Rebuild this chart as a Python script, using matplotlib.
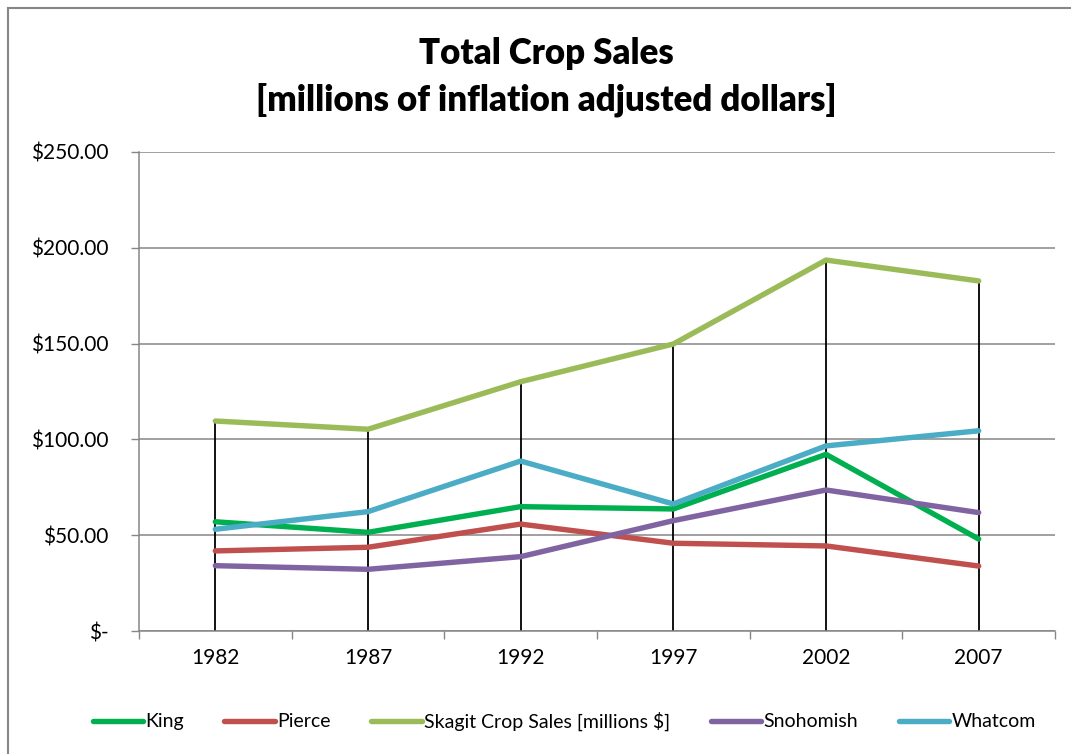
import matplotlib
matplotlib.use("Agg")
import matplotlib.pyplot as plt
from matplotlib.lines import Line2D
import numpy as np

years = ["1982", "1987", "1992", "1997", "2002", "2007"]
series_names = ["King", "Pierce", "Skagit Crop Sales [millions $]", "Snohomish", "Whatcom"]
king = [57.0, 51.5, 64.9, 63.7, 92.2, 48.0]
pierce = [41.8, 43.7, 55.8, 45.8, 44.4, 33.9]
skagit = [109.6, 105.3, 130.1, 149.8, 193.6, 182.7]
snohomish = [34.1, 32.2, 38.8, 57.6, 73.6, 61.8]
whatcom = [53.1, 62.3, 88.7, 66.3, 96.6, 104.5]
colors = ["#00B050", "#C0504D", "#9BBB59", "#8064A2", "#4BACC6"]

y_ticks = [0, 50, 100, 150, 200, 250]
y_labels = ["$-", "$50.00", "$100.00", "$150.00", "$200.00", "$250.00"]

plt.rcParams["font.family"] = ["Lato", "DejaVu Sans"]

W, H = 1071, 754
fig = plt.figure(figsize=(W / 100, H / 100), dpi=100)
ax = fig.add_axes([139 / W, 1 - 631 / H, (1055 - 139) / W, (631 - 152) / H])

x = np.arange(len(years))
data = [king, pierce, skagit, snohomish, whatcom]

# drop lines from the highest series down to the axis
tops = np.max(np.array(data), axis=0)
ax.vlines(x, 0, tops, colors="black", lw=1.3, zorder=2)

for vals, c, name in zip(data, colors, series_names):
    ax.plot(x, vals, color=c, lw=3.9, solid_capstyle="round", zorder=3, label=name)

ax.set_xlim(-0.5, len(years) - 0.5)
ax.set_ylim(0, 250)
ax.set_yticks(y_ticks)
ax.set_yticklabels(y_labels, fontsize=15)
ax.set_xticks(x)
ax.set_xticklabels(years, fontsize=15)
ax.set_xticks(np.arange(-0.5, len(years)), minor=True)
ax.tick_params(axis="x", which="major", length=0, pad=12)
ax.tick_params(axis="x", which="minor", length=6, color="#868686", width=1)
ax.tick_params(axis="y", length=6, color="#868686", width=1, pad=16)
ax.yaxis.grid(True, color="#868686", lw=1.1)
ax.set_axisbelow(True)
for side in ["top", "right"]:
    ax.spines[side].set_visible(False)
for side in ["left", "bottom"]:
    ax.spines[side].set_color("#868686")
    ax.spines[side].set_linewidth(1.1)

fig.text(546 / W, 1 - 54 / H, "Total Crop Sales", ha="center", va="center",
         fontsize=25, fontweight="heavy")
fig.text(546 / W, 1 - 100 / H, "[millions of inflation adjusted dollars]", ha="center",
         va="center", fontsize=25, fontweight="heavy")

handles = [Line2D([], [], color=c, lw=3.9, solid_capstyle="round") for c in colors]
fig.legend(handles, series_names, loc="center", bbox_to_anchor=(564 / W, 1 - 721 / H),
           ncol=5, frameon=False, fontsize=14, handlelength=2.6, handletextpad=0.1,
           columnspacing=2.1)

# outer chart border (only top and left edges fall inside the image)
fig.add_artist(plt.Line2D([8 / W, 8 / W], [0, 1 - 8 / H], color="#868686", lw=1.5))
fig.add_artist(plt.Line2D([8 / W, 1], [1 - 8 / H, 1 - 8 / H], color="#868686", lw=1.5))

fig.savefig("out.png", dpi=100)
